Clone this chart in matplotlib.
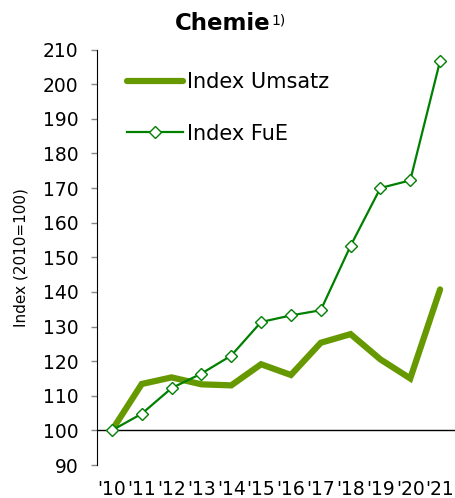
import matplotlib
matplotlib.use("Agg")
import matplotlib.pyplot as plt
import numpy as np

years = ["'10", "'11", "'12", "'13", "'14", "'15", "'16", "'17", "'18", "'19", "'20", "'21"]
umsatz = [100, 113.4, 115.3, 113.3, 113.0, 119.1, 116.0, 125.3, 127.8, 120.5, 115.0, 140.7]
fue = [100, 104.8, 112.2, 116.4, 121.6, 131.3, 133.2, 134.7, 153.3, 170.0, 172.2, 206.7]

plt.rcParams['font.family'] = ['DejaVu Sans']

fig = plt.figure(figsize=(4.55, 4.98), dpi=100)
ax = fig.add_axes([97 / 455, 1 - 465 / 498, 1 - 97 / 455, (465 - 49.5) / 498])

x = np.arange(len(years))
ax.axhline(100, color='black', lw=1, zorder=1)
ax.plot(x, umsatz, color='#669900', lw=4.5, solid_capstyle='round',
        solid_joinstyle='miter', label='Index Umsatz', zorder=2)
ax.plot(x, fue, color='#008000', lw=1.6, marker='D', markersize=6,
        markerfacecolor='white', markeredgecolor='#008000', markeredgewidth=1,
        label='Index FuE', zorder=3)

ax.set_xlim(-0.5, 11.5)
ax.set_ylim(90, 210)
ax.set_yticks(np.arange(90, 211, 10))
ax.set_xticks(x)
ax.set_xticklabels(years)
ax.tick_params(axis='x', length=0, pad=11, labelsize=13.5)
ax.tick_params(axis='y', length=4.3, width=1, color='#888888', labelsize=13.5, pad=9)
for s in ['top', 'right', 'bottom']:
    ax.spines[s].set_visible(False)
ax.spines['left'].set_color('black')

ax.set_ylabel('Index (2010=100)', fontsize=11, labelpad=10)

ax.legend(loc='upper left', bbox_to_anchor=(0.084, 0.945), frameon=False,
          fontsize=15, handlelength=2.7, handletextpad=0.2, labelspacing=1.5,
          borderaxespad=0, borderpad=0)

fig.text(270 / 455, 1 - 24 / 498, 'Chemie', ha='right', va='center',
         fontsize=16.5, fontweight='bold')
fig.text(271 / 455, 1 - 20 / 498, '1)', ha='left', va='center', fontsize=10)

fig.savefig('out.png', dpi=100)
